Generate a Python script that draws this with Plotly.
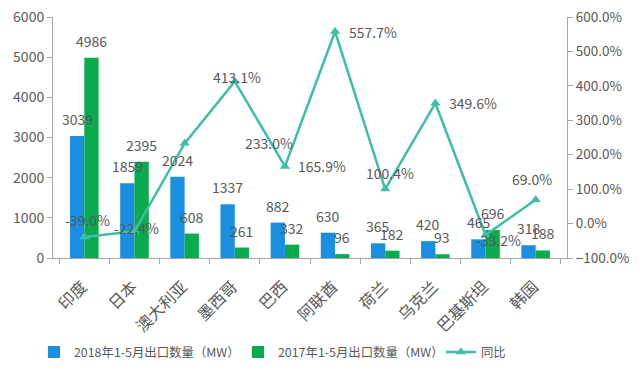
import plotly.graph_objects as go

categories = ["印度", "日本", "澳大利亚", "墨西哥", "巴西", "阿联酋", "荷兰", "乌克兰", "巴基斯坦", "韩国"]
export_2018 = [3039, 1859, 2024, 1337, 882, 630, 365, 420, 465, 318]
export_2017 = [4986, 2395, 608, 261, 332, 96, 182, 93, 696, 188]
yoy_pct = [-39.0, -22.4, 233.0, 413.1, 165.9, 557.7, 100.4, 349.6, -33.2, 69.0]

# label offsets (pixels) for the ratio labels
yoy_dx = [3, 2, 84, 2, 37, 38, 5, 38, 13, -4]
yoy_dy = [17, 3, 0, 4, 0, 0, 16, 0, -5, 21]

BLUE = "#1a8fdf"
GREEN = "#0aaa4f"
TEAL = "#3dbfa6"
GREY = "#595959"
FONT = "Noto Sans CJK SC"

fig = go.Figure()
fig.add_trace(go.Bar(x=categories, y=export_2018, name="2018年1-5月出口数量（MW）",
                     marker_color=BLUE, marker_line_width=0, legendwidth=159))
fig.add_trace(go.Bar(x=categories, y=export_2017, name="2017年1-5月出口数量（MW）",
                     marker_color=GREEN, marker_line_width=0, legendwidth=158))
fig.add_trace(go.Scatter(x=categories, y=yoy_pct, name="同比", yaxis="y2",
                         mode="lines+markers", line=dict(color=TEAL, width=2.5),
                         marker=dict(symbol="triangle-up", size=9, color=TEAL)))

annotations = []
for c, v in zip(categories, export_2018):
    annotations.append(dict(x=c, y=v, xref="x", yref="y", text=str(v), showarrow=False,
                            xshift=-7, yshift=17, font=dict(size=14, color=GREY, family=FONT)))
for c, v in zip(categories, export_2017):
    annotations.append(dict(x=c, y=v, xref="x", yref="y", text=str(v), showarrow=False,
                            xshift=7, yshift=17, font=dict(size=14, color=GREY, family=FONT)))
for c, v, dx, dy in zip(categories, yoy_pct, yoy_dx, yoy_dy):
    annotations.append(dict(x=c, y=v, xref="x", yref="y2", text=f"{v:.1f}%", showarrow=False,
                            xshift=dx, yshift=dy, font=dict(size=14, color=GREY, family=FONT)))

fig.update_layout(
    width=640, height=377,
    margin=dict(l=53, r=73, t=17, b=119, autoexpand=False),
    paper_bgcolor="white", plot_bgcolor="white",
    font=dict(family=FONT, color=GREY, size=13),
    barmode="group", bargap=0.43, bargroupgap=0,
    showlegend=True,
    legend=dict(orientation="h", x=-0.037, xanchor="left", y=-0.33, yanchor="top",
                font=dict(size=12.4, color=GREY, family=FONT), itemwidth=30,
                traceorder="normal", bgcolor="rgba(0,0,0,0)"),
    xaxis=dict(type="category", showline=True, linecolor="#a6a6a6", linewidth=1,
               ticks="outside", tickson="boundaries", ticklen=5, tickcolor="#a6a6a6",
               tickangle=-45, tickfont=dict(size=16, color=GREY, family=FONT),
               ticklabelstandoff=12, ticklabelshift=-2,
               showgrid=False, zeroline=False, automargin=False),
    yaxis=dict(range=[0, 6000], dtick=1000, showline=True, linecolor="#a6a6a6", linewidth=1,
               ticks="outside", ticklen=5, tickcolor="#a6a6a6", showgrid=False, zeroline=False,
               tickfont=dict(size=14, color=GREY, family=FONT), automargin=False),
    yaxis2=dict(range=[-100, 600], dtick=100, overlaying="y", side="right",
                tickformat=".1f", ticksuffix="%", showline=True, linecolor="#a6a6a6", linewidth=1,
                ticks="outside", ticklen=5, tickcolor="#a6a6a6", showgrid=False, zeroline=False,
                tickfont=dict(size=13.5, color=GREY, family=FONT), automargin=False),
    annotations=annotations,
)

# remove the default 8px page margin so the figure sits at the window's top-left corner
fig.write_html("out.html", config={"displayModeBar": False},
               post_script="document.body.style.margin='0';")
